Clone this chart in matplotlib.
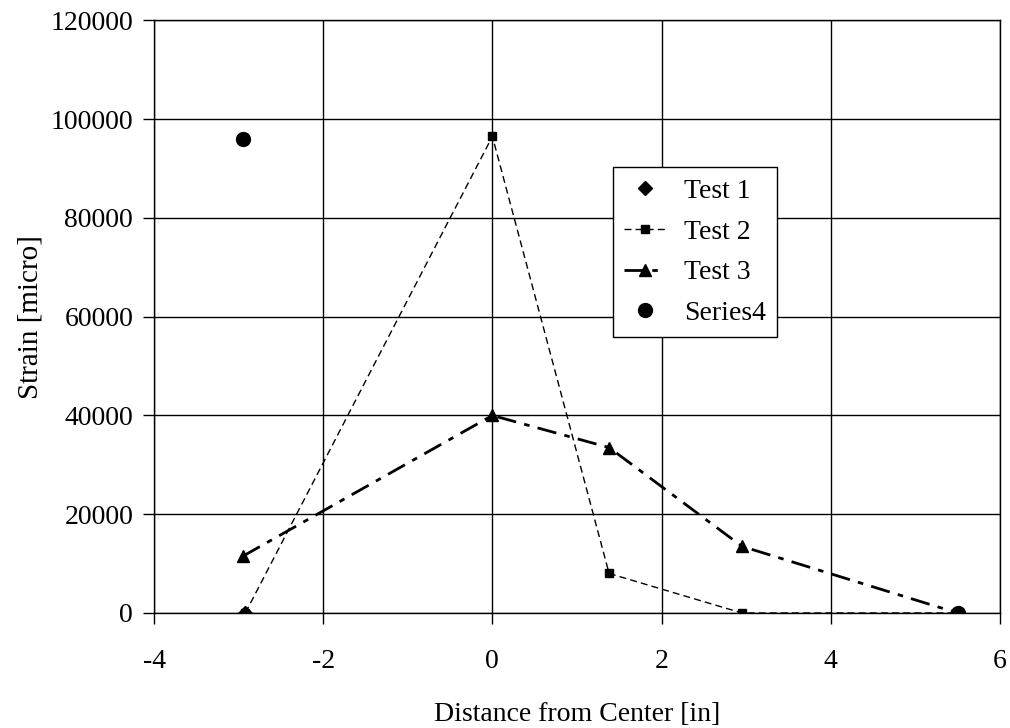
import matplotlib
matplotlib.use("Agg")
import matplotlib.pyplot as plt

plt.rcParams['font.family'] = ['Liberation Serif', 'DejaVu Serif']

test1_x = [-2.92, 5.5]
test1_y = [0, 0]
test2_x = [-2.92, 0.0, 1.38, 2.95, 5.5]
test2_y = [0, 96500, 8000, 0, 0]
test3_x = [-2.95, 0.0, 1.38, 2.95, 5.5]
test3_y = [11500, 40000, 33500, 13500, 0]
series4_x = [-2.95, 5.5]
series4_y = [96000, 0]

xticks = [-4, -2, 0, 2, 4, 6]
yticks = [0, 20000, 40000, 60000, 80000, 100000, 120000]

fig = plt.figure(figsize=(10.1, 7.28), dpi=100)
ax = fig.add_axes([0.1525, 0.158, 0.8375, 0.814])

ax.plot(test1_x, test1_y, linestyle='none', marker='D', color='black', markersize=7, label='Test 1')
ax.plot(test2_x, test2_y, linestyle=(0, (5, 3)), linewidth=1.0, marker='s', color='black', markersize=6, label='Test 2')
ax.plot(test3_x, test3_y, linestyle=(0, (7, 3, 2, 3)), linewidth=2.0, marker='^', color='black', markersize=9, label='Test 3')
ax.plot(series4_x, series4_y, linestyle='none', marker='o', color='black', markersize=10, label='Series4')

ax.set_xlim(-4, 6)
ax.set_ylim(0, 120000)
ax.set_xticks(xticks)
ax.set_yticks(yticks)
ax.set_xticklabels([str(v) for v in xticks])
ax.set_yticklabels([str(v) for v in yticks])
ax.grid(True, color='black', linewidth=1.0)
ax.set_axisbelow(True)
for s in ax.spines.values():
    s.set_color('black')
    s.set_linewidth(1.0)
ax.tick_params(direction='out', length=8, width=1.0, labelsize=20)
ax.tick_params(axis='x', pad=18)
ax.tick_params(axis='y', pad=7)

ax.set_xlabel('Distance from Center [in]', fontsize=20, labelpad=20)
ax.set_ylabel('Strain [micro]', fontsize=21, labelpad=5)

leg = ax.legend(loc='upper left', bbox_to_anchor=(0.543, 0.752), fontsize=20,
                frameon=True, fancybox=False, edgecolor='black', framealpha=1,
                handlelength=1.45, handletextpad=0.7, borderpad=0.4, labelspacing=0.55,
                borderaxespad=0)
leg.get_frame().set_linewidth(1.0)

fig.savefig('out.png', dpi=100)
